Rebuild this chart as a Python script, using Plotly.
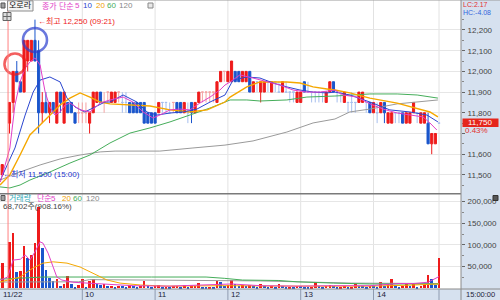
import plotly.graph_objects as go

# ---------------- data ----------------
# bar slots: -1 = previous day's last bar, 1..119 = 3-minute bars of the day
slots = [-1] + list(range(1, 120))
opens = [11500,
 11750, 11850, 12000, 11950, 11900, 12050, 12050, 12150, 12100, 11800,
 11850, 11800, 11850, 11750, 11900, 11750, 11850, 11850, 11800, 11800,
 11800, 11800, 11750, 11800, 11850, 11900, 11850, 11900, 11850, 11850,
 11900, 11850, 11850, 11850, 11850, 11850, 11850, 11850, 11800, 11800,
 11800, 11800, 11850, 11850, 11800, 11850, 11850, 11850, 11800, 11800,
 11850, 11800, 11850, 11900, 11900, 11900, 11900, 11850, 11950, 12000,
 11950, 11950, 12000, 12000, 11950, 11950, 12000, 11900, 11950, 11900,
 11900, 11950, 11900, 11950, 11900, 11900, 11900, 11900, 11900, 11850,
 11850, 11950, 11900, 11900, 11900, 11900, 11900, 11850, 11900, 11950,
 11900, 11900, 11850, 11850, 11850, 11850, 11850, 11850, 11850, 11850,
 11800, 11800, 11800, 11850, 11750, 11750, 11800, 11800, 11800, 11750,
 11750, 11800, 11800, 11750, 11750, 11750, 11650, 11650, 11750]
highs = [11550,
 11850, 12000, 12050, 11950, 12150, 12150, 12150, 12250, 12150, 11900,
 11900, 11850, 11850, 11900, 11900, 11900, 11850, 11850, 11800, 11850,
 11850, 11850, 11800, 11900, 11900, 11900, 11900, 11900, 11900, 11900,
 11900, 11900, 11900, 11850, 11850, 11850, 11850, 11850, 11800, 11800,
 11800, 11850, 11850, 11850, 11850, 11850, 11850, 11850, 11850, 11850,
 11850, 11850, 11900, 11900, 11900, 11900, 11900, 11950, 12000, 12000,
 12000, 12050, 12000, 12000, 12000, 12000, 12000, 11950, 11950, 11950,
 11950, 11950, 11950, 11950, 11950, 11950, 11950, 11900, 11900, 11900,
 11900, 11950, 11950, 11900, 11900, 11900, 11900, 11900, 11950, 11950,
 11900, 11900, 11900, 11850, 11900, 11850, 11900, 11900, 11850, 11850,
 11850, 11850, 11850, 11850, 11800, 11800, 11800, 11800, 11800, 11800,
 11800, 11850, 11800, 11800, 11800, 11800, 11700, 11700, 11750]
lows = [11500,
 11700, 11800, 11950, 11900, 11900, 12000, 12050, 12050, 11700, 11750,
 11800, 11750, 11800, 11750, 11800, 11750, 11800, 11800, 11750, 11750,
 11750, 11750, 11700, 11800, 11850, 11850, 11800, 11850, 11850, 11850,
 11850, 11800, 11800, 11800, 11800, 11800, 11800, 11750, 11750, 11750,
 11750, 11800, 11800, 11800, 11800, 11800, 11800, 11800, 11800, 11750,
 11750, 11800, 11850, 11850, 11850, 11850, 11850, 11850, 11950, 11950,
 11950, 11950, 11950, 11950, 11950, 11950, 11900, 11900, 11900, 11850,
 11900, 11900, 11900, 11900, 11900, 11900, 11900, 11850, 11850, 11850,
 11850, 11900, 11900, 11850, 11850, 11850, 11850, 11850, 11900, 11900,
 11850, 11850, 11850, 11800, 11800, 11800, 11850, 11850, 11800, 11800,
 11800, 11750, 11800, 11750, 11750, 11750, 11750, 11750, 11750, 11750,
 11750, 11800, 11750, 11750, 11750, 11650, 11600, 11650, 11750]
closes = [11550,
 11850, 12000, 11950, 11900, 12150, 12150, 12150, 12050, 11800, 11850,
 11800, 11850, 11800, 11900, 11850, 11900, 11800, 11800, 11750, 11800,
 11800, 11800, 11800, 11900, 11900, 11850, 11850, 11900, 11900, 11900,
 11900, 11850, 11850, 11800, 11800, 11800, 11800, 11750, 11750, 11750,
 11750, 11850, 11850, 11850, 11800, 11850, 11800, 11800, 11850, 11800,
 11800, 11850, 11900, 11900, 11900, 11900, 11900, 11950, 12000, 12000,
 12000, 12050, 11950, 11950, 12000, 12000, 11900, 11950, 11950, 11950,
 11950, 11950, 11950, 11950, 11900, 11950, 11900, 11900, 11900, 11900,
 11900, 11900, 11900, 11900, 11900, 11900, 11900, 11900, 11950, 11900,
 11900, 11900, 11900, 11850, 11850, 11850, 11900, 11900, 11850, 11800,
 11850, 11800, 11850, 11800, 11800, 11800, 11800, 11800, 11750, 11800,
 11800, 11850, 11800, 11800, 11800, 11650, 11700, 11700, 11750]
volumes = [58000,
 107000, 127000, 38000, 40000, 98000, 70000, 77000, 104000, 188000, 92000,
 42000, 23000, 16000, 21000, 5000, 10000, 29000, 10000, 4000, 7000,
 21000, 4000, 16000, 21000, 10000, 7000, 9000, 5000, 6000, 4000,
 6000, 5000, 4000, 7000, 5000, 4000, 6000, 17000, 5000, 4000,
 6000, 8000, 3000, 4000, 3000, 5000, 6000, 4000, 8000, 3000,
 5000, 6000, 12000, 4000, 3000, 4000, 3000, 17000, 15000, 6000,
 8000, 19000, 9000, 6000, 7000, 5000, 8000, 6000, 3000, 9000,
 6000, 3000, 5000, 3000, 9000, 6000, 3000, 4000, 3000, 6000,
 5000, 4000, 3000, 4000, 14000, 5000, 3000, 6000, 7000, 5000,
 3000, 4000, 6000, 3000, 4000, 9000, 6000, 5000, 3000, 6000,
 5000, 4000, 15000, 6000, 10000, 21000, 8000, 4000, 6000, 13000,
 5000, 13000, 4000, 6000, 8000, 31000, 21000, 7565, 68702]

# price moving averages (bar slot, price)
ma5_x = [-1.5, 1.1, 2.5, 3.9, 5.3, 6.6, 8, 9.4, 10.8, 12.1, 13.5, 14.9, 16.3, 17.6, 20.4, 23.1, 25.9, 28.6,
         32.2, 34.9, 37.7, 40.4, 42.3, 45.1, 47.8, 50.6, 53.3, 56.1, 58.8, 60.2, 61.6, 64.3, 67.9, 71.7,
         75.3, 78.9, 82.7, 86.3, 90.4, 92.6, 96.5, 100, 103.6, 107.5, 111, 114.6, 116.5, 118.4]
ma5_v = [11466, 11630, 11838, 11949, 12016, 12045, 12065, 12031, 11900, 11828, 11789, 11804, 11838, 11847,
         11814, 11804, 11847, 11862, 11876, 11852, 11804, 11775, 11789, 11814, 11818, 11814, 11847, 11876,
         11910, 11934, 11949, 11983, 11968, 11949, 11934, 11910, 11900, 11900, 11910, 11886, 11876, 11843,
         11818, 11799, 11789, 11780, 11751, 11717]
ma10_x = [-1.5, 2.5, 5.3, 7.5, 9.4, 12.1, 14.9, 16.8, 19, 21.7, 24.5, 27.2, 28.6, 32.2, 36, 38.8, 41.5, 45.1,
          48.7, 52.5, 56.1, 60.2, 62.4, 66.2, 69.8, 73.4, 77.2, 80.8, 84.4, 88.2, 90.4, 94.5, 100, 105.5,
          111, 115.7, 118.7]
ma10_v = [11475, 11630, 11789, 11900, 11958, 11973, 11949, 11871, 11828, 11804, 11828, 11852, 11852, 11886,
          11852, 11804, 11789, 11799, 11804, 11818, 11852, 11886, 11958, 11973, 11968, 11944, 11925, 11910,
          11900, 11896, 11900, 11886, 11852, 11814, 11804, 11789, 11756]
ma20_x = [-1.6, 1.1, 3.9, 6.6, 9.4, 12.1, 14.9, 17.6, 20.4, 23.1, 25.9, 28.6, 34.1, 39.6, 45.1, 50.6, 55.3,
          60.2, 61.6, 66.2, 69.8, 77.2, 80.8, 84.4, 88.2, 90.4, 94.5, 100, 107.5, 113, 116.5, 118.7]
ma20_v = [11451, 11500, 11596, 11693, 11741, 11789, 11838, 11871, 11896, 11876, 11852, 11843, 11838, 11833,
          11814, 11804, 11814, 11852, 11876, 11925, 11949, 11949, 11944, 11925, 11915, 11910, 11896, 11871,
          11847, 11823, 11804, 11780]
ma60_x = [-1.6, 1.1, 3.9, 6.6, 12.1, 17.6, 23.1, 28.6, 34.1, 39.6, 45.1, 50.6, 56.1, 60.2, 61.6, 66.2, 69.8,
          77.2, 82.7, 90.4, 94.5, 100, 107.5, 113, 118.7]
ma60_v = [11442, 11437, 11451, 11475, 11514, 11557, 11596, 11654, 11702, 11727, 11756, 11789, 11823, 11852,
          11862, 11862, 11857, 11862, 11876, 11881, 11886, 11891, 11891, 11886, 11871]
ma120_x = [-1.6, 3.9, 9.4, 14.9, 20.4, 25.9, 30, 42.3, 51.4, 60.2, 67.9, 77.2, 84.4, 90.4, 94.5, 100, 107.5,
           113, 118.7]
ma120_v = [11475, 11514, 11548, 11577, 11596, 11611, 11615, 11615, 11630, 11644, 11664, 11707, 11751, 11770,
           11804, 11818, 11843, 11852, 11862]

# volume moving averages
vma5_x = [-1.5, 0.5, 2, 4, 5.3, 6.6, 8, 9.4, 10.2, 11.6, 13, 14, 15.4, 18.4, 22.3, 26, 35, 45, 55, 62, 70,
          80, 90, 100, 105, 108, 112, 116, 119]
vma5_v = [19000, 26000, 65000, 67000, 77000, 65000, 84000, 107000, 104000, 81000, 49000, 26000, 19000, 14000,
          12000, 10000, 6000, 5000, 8000, 10000, 6000, 5000, 6000, 6000, 9000, 11000, 11000, 14000, 27000]
vma20_x = [-1.6, 3.9, 7.5, 10.2, 13, 16.8, 20.4, 24, 27.8, 31.4, 37, 44, 60, 80, 100, 110, 119]
vma20_v = [14500, 26000, 47000, 58000, 61000, 58000, 49000, 35000, 19000, 12000, 7600, 5000, 6000, 5000,
           5000, 7000, 10000]
vma60_x = [-1.6, 7.5, 10.2, 40, 55, 60, 65, 75, 80, 90, 100, 119]
vma60_v = [21000, 24000, 26000, 26000, 26000, 23000, 19000, 18000, 15000, 12000, 10000, 10000]
vma120_x = [-1.6, 20, 23, 50, 70, 85, 95, 119]
vma120_v = [14500, 15000, 20000, 19000, 17000, 14000, 12000, 11000]

# signal circles (bar slot, price)
signal_x = [2.5, 8]
signal_y = [12036, 12152]

# axis ticks / labels
price_ticks = [11500, 11600, 11700, 11800, 11900, 12000, 12100, 12200]
vol_ticks = [50000, 100000, 150000, 200000]
hour_slots = [21, 41, 61, 81, 101, 119]
hour_labels = ["10", "11", "12", "13", "14", ""]
high_slot, high_price = 8, 12250
low_slot, low_price = -1, 11500

# ---------------- styling ----------------
RED = '#ee1b1b'
BLUE = '#1a55cc'
PALE_RED = '#f5a3a3'
PALE_BLUE = '#a7bfee'
C5, C10, C20, C60, C120 = '#e23fc8', '#2b46cf', '#f5a800', '#45ad5a', '#9a9a9a'
PANEL = '#d6e1ef'
FONT = 'Liberation Sans, Noto Sans CJK KR, sans-serif'

PW, PH = 461, 289


def px(x):
    return x / PW


def py(y):
    return (PH - y) / PH


fig = go.Figure()

norm = [k for k in range(len(slots)) if opens[k] != closes[k]]
doji = [k for k in range(len(slots)) if opens[k] == closes[k]]


def pick(arr, idx):
    return [arr[k] for k in idx]


fig.add_trace(go.Candlestick(
    x=pick(slots, doji), open=pick(opens, doji), high=pick(highs, doji),
    low=pick(lows, doji), close=pick(closes, doji),
    increasing=dict(line=dict(color=PALE_RED, width=1), fillcolor=PALE_RED),
    decreasing=dict(line=dict(color=PALE_BLUE, width=1), fillcolor=PALE_BLUE),
    whiskerwidth=0, hoverinfo='skip', xaxis='x', yaxis='y'))

for xs, vs, col, w in [(ma120_x, ma120_v, C120, 1), (ma60_x, ma60_v, C60, 1),
                       (ma20_x, ma20_v, C20, 1.4), (ma10_x, ma10_v, C10, 1),
                       (ma5_x, ma5_v, C5, 1)]:
    fig.add_trace(go.Scatter(x=xs, y=vs, mode='lines', line=dict(color=col, width=w),
                             hoverinfo='skip', xaxis='x', yaxis='y'))

fig.add_trace(go.Candlestick(
    x=pick(slots, norm), open=pick(opens, norm), high=pick(highs, norm),
    low=pick(lows, norm), close=pick(closes, norm),
    increasing=dict(line=dict(color=RED, width=1), fillcolor=RED),
    decreasing=dict(line=dict(color=BLUE, width=1), fillcolor=BLUE),
    whiskerwidth=0, hoverinfo='skip', xaxis='x', yaxis='y'))

fig.add_trace(go.Scatter(
    x=signal_x, y=signal_y, mode='markers', hoverinfo='skip',
    marker=dict(symbol='circle-open', size=[21, 24], color=[RED, '#2b3fcf'],
                line=dict(width=2.6)),
    xaxis='x', yaxis='y'))

vol_colors = [RED if k == 0 or volumes[k] >= volumes[k - 1] else BLUE for k in range(len(volumes))]
fig.add_trace(go.Bar(x=slots, y=volumes, marker=dict(color=vol_colors, line=dict(width=0)),
                     width=0.72, hoverinfo='skip', xaxis='x', yaxis='y2'))
for xs, vs, col in [(vma120_x, vma120_v, C120), (vma60_x, vma60_v, C60),
                    (vma20_x, vma20_v, C20), (vma5_x, vma5_v, C5)]:
    fig.add_trace(go.Scatter(x=xs, y=vs, mode='lines', line=dict(color=col, width=1),
                             hoverinfo='skip', xaxis='x', yaxis='y2'))

# ---------------- shapes ----------------
shapes = []
band_bottom = -11 / PH
right_edge = 500 / PW
shapes.append(dict(type='rect', xref='paper', yref='paper', x0=1, x1=right_edge, y0=band_bottom, y1=1,
                   fillcolor=PANEL, line=dict(width=0), layer='below'))
shapes.append(dict(type='rect', xref='paper', yref='paper', x0=0, x1=right_edge, y0=band_bottom, y1=0,
                   fillcolor=PANEL, line=dict(width=0), layer='below'))
for s in hour_slots:
    shapes.append(dict(type='line', xref='x', yref='paper', x0=s, x1=s, y0=0, y1=1,
                       line=dict(color='#e2e2e2', width=1), layer='below'))
    shapes.append(dict(type='line', xref='x', yref='paper', x0=s, x1=s, y0=band_bottom, y1=0,
                       line=dict(color='#8f9bb0', width=1)))
# day divider
shapes.append(dict(type='line', xref='x', yref='paper', x0=0.6, x1=0.6, y0=0, y1=1,
                   line=dict(color='#ff8080', width=1)))
# panel separator, frame
shapes.append(dict(type='line', xref='paper', yref='paper', x0=0, x1=1, y0=py(193.7), y1=py(193.7),
                   line=dict(color='#7a7a7a', width=1.5)))
shapes.append(dict(type='line', xref='paper', yref='paper', x0=0, x1=right_edge, y0=1, y1=1,
                   line=dict(color='#9a9a9a', width=1)))
shapes.append(dict(type='line', xref='paper', yref='paper', x0=1, x1=1, y0=band_bottom, y1=1,
                   line=dict(color='#8a8a8a', width=1)))
shapes.append(dict(type='line', xref='paper', yref='paper', x0=0, x1=right_edge, y0=0, y1=0,
                   line=dict(color='#8a8a8a', width=1)))
# header boxes / icons
shapes.append(dict(type='rect', xref='paper', yref='paper', x0=px(1), x1=px(5), y0=py(8), y1=py(3),
                   fillcolor='#a0a0a0', line=dict(color='#555', width=1)))
shapes.append(dict(type='rect', xref='paper', yref='paper', x0=px(7.5), x1=px(33), y0=py(11), y1=py(0.8),
                   fillcolor='#f3f3f3', line=dict(color='#8c8c8c', width=1)))
shapes.append(dict(type='rect', xref='paper', yref='paper', x0=px(148), x1=px(153), y0=py(8), y1=py(3),
                   fillcolor='#e8e8e8', line=dict(color='#888', width=1)))
shapes.append(dict(type='rect', xref='paper', yref='paper', x0=px(3), x1=px(11), y0=py(20.5), y1=py(12.5),
                   fillcolor='#dcdcdc', line=dict(color='#666', width=1)))
shapes.append(dict(type='line', xref='paper', yref='paper', x0=px(3), x1=px(11), y0=py(16.5), y1=py(16.5),
                   line=dict(color='#666', width=1)))
shapes.append(dict(type='line', xref='paper', yref='paper', x0=px(7), x1=px(7), y0=py(20.5), y1=py(12.5),
                   line=dict(color='#666', width=1)))
shapes.append(dict(type='rect', xref='paper', yref='paper', x0=px(1), x1=px(5), y0=py(200.5), y1=py(195.5),
                   fillcolor='#a0a0a0', line=dict(color='#555', width=1)))
shapes.append(dict(type='rect', xref='paper', yref='paper', x0=px(493), x1=px(498), y0=py(200.5), y1=py(195.5),
                   fillcolor='#555', line=dict(color='#333', width=1)))
# current price box
shapes.append(dict(type='rect', xref='paper', yref='paper', x0=px(462.5), x1=px(498.5), y0=py(127), y1=py(118.5),
                   fillcolor='#e5261c', line=dict(width=0)))

# ---------------- annotations ----------------
ann = []


def txt(x, y, s, color, size=8, anchor='left'):
    ann.append(dict(xref='paper', yref='paper', x=px(x), y=py(y), text=s, showarrow=False,
                    xanchor=anchor, yanchor='middle', borderpad=0,
                    font=dict(family=FONT, size=size, color=color)))


txt(20.2, 6, '오로라', '#111', 8, 'center')
txt(41, 6, '종가 단순', C5)
txt(74, 6, '5', C5)
txt(82, 6, '10', C10)
txt(95, 6, '20', '#f0a000')
txt(106, 6, '60', C60)
txt(118, 6, '120', '#888')

txt(8, 198, '거래량', '#2fa9b8')
txt(36, 198, '단순', C5)
txt(50, 198, '5', C5)
txt(61, 198, '20', '#f0a000')
txt(72, 198, '60', C60)
txt(85, 198, '120', '#888')
txt(2, 206.5, '68,702주(908.16%)', '#444')

txt(462, 4.3, 'LC:2.17', '#e23030', 7)
txt(462, 12.3, 'HC:-4.08', '#3366dd', 7)
txt(480.5, 123, '11,750', '#ffffff', 8, 'center')
txt(464, 130.5, '0.43%', '#e23030', 8)
txt(2, 294.5, '11/22', '#1d1d3a', 8)
txt(465, 294.5, '15:00:00', '#1d1d3a', 7.5)

for s, lab in zip(hour_slots, hour_labels):
    if lab:
        ann.append(dict(xref='x', yref='paper', x=s, y=py(294.5), text=lab, showarrow=False,
                        xanchor='left', yanchor='middle', xshift=1,
                        font=dict(family=FONT, size=8, color='#1d1d3a')))

ann.append(dict(xref='x', yref='y', x=high_slot, y=high_price, text='←최고 12,250 (09:21)',
                showarrow=False, xanchor='left', yanchor='middle', xshift=1, yshift=-1,
                font=dict(family=FONT, size=8, color='#ee2222')))
ann.append(dict(xref='x', yref='y', x=low_slot, y=low_price, text='←최저 11,500 (15:00)',
                showarrow=False, xanchor='left', yanchor='middle', xshift=-1, yshift=1,
                font=dict(family=FONT, size=8, color='#2233cc')))

price_text = [f'{v:,}' if v != 11700 else '' for v in price_ticks]
vol_text = [f'{v:,}' for v in vol_ticks]

fig.update_layout(
    width=500, height=300, margin=dict(l=0, r=39, t=0, b=11),
    paper_bgcolor='white', plot_bgcolor='white', showlegend=False, boxgap=0.16,
    bargap=0, font=dict(family=FONT, size=8, color='#444'),
    xaxis=dict(range=[-1.61, 125.04], showgrid=False, zeroline=False, showticklabels=False,
               rangeslider=dict(visible=False), anchor='y2', fixedrange=True, showline=False),
    yaxis=dict(domain=[py(193.5), 1], range=[11410.1, 12344.9], side='right', anchor='x',
               tickmode='array', tickvals=price_ticks, ticktext=price_text,
               showgrid=True, gridcolor='#e6e6e6', gridwidth=1, zeroline=False,
               ticks='outside', ticklen=3, tickcolor='#666', ticklabelstandoff=1,
               minor=dict(tickmode='array', tickvals=[v + 50 for v in price_ticks] + [11450],
                          ticks='outside', ticklen=2, tickcolor='#888'),
               tickfont=dict(family=FONT, size=8, color='#444'), fixedrange=True),
    yaxis2=dict(domain=[0, py(194)], range=[-1600, 217300], side='right', anchor='x',
                tickmode='array', tickvals=vol_ticks, ticktext=vol_text,
                showgrid=True, gridcolor='#e6e6e6', gridwidth=1, zeroline=False,
                ticks='outside', ticklen=3, tickcolor='#666', ticklabelstandoff=1,
                minor=dict(tickmode='array', tickvals=[25000, 75000, 125000, 175000],
                           ticks='outside', ticklen=2, tickcolor='#888'),
                tickfont=dict(family=FONT, size=8, color='#444'), fixedrange=True),
    shapes=shapes, annotations=ann,
)

fig.write_html('out.html')
